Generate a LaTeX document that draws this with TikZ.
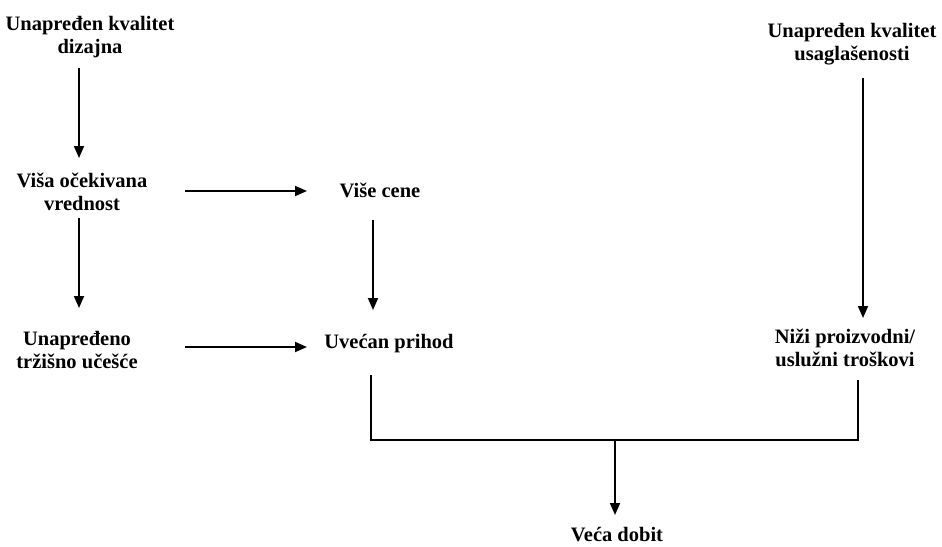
\documentclass[tikz,border=0pt]{standalone}
\usepackage{fontspec}
\setmainfont{Liberation Serif}
\usetikzlibrary{arrows.meta}
\begin{document}
\begin{tikzpicture}[x=1pt,y=-1pt,
  lbl/.style={align=center,inner sep=0pt,font=\fontsize{20.5}{23}\selectfont\bfseries},
  conn/.style={line width=1.8pt},
  arr/.style={conn,-{Triangle[length=12pt,width=10pt]}}]
\useasboundingbox[fill=white] (0,0) rectangle (942,546);
\node[lbl] (a) at (90,37) {Unapređen kvalitet\\dizajna};
\node[lbl] (b) at (82,192) {Viša očekivana\\vrednost};
\node[lbl] (c) at (380,190) {Više cene};
\node[lbl] (d) at (77,350) {Unapređeno\\tržišno učešće};
\node[lbl] (e) at (389,344) {Uvećan prihod};
\node[lbl] (f) at (852,44) {Unapređen kvalitet\\usaglašenosti};
\node[lbl] (g) at (845,348) {Niži proizvodni/\\uslužni troškovi};
\node[lbl] (h) at (617,535) {Veća dobit};
\coordinate (j) at (615,440);
\draw[arr] ([shift={(-11,31)}]a.center) -- ([shift={(-3,-34)}]b.center);
\draw[arr] ([shift={(103,-1)}]b.center) -- ([shift={(-73,1)}]c.center);
\draw[arr] ([shift={(-3,26)}]b.center) -- ([shift={(2,-42)}]d.center);
\draw[arr] ([shift={(-7,30)}]c.center) -- ([shift={(-16,-34)}]e.center);
\draw[arr] ([shift={(108,-3)}]d.center) -- ([shift={(-82,3)}]e.center);
\draw[arr] ([shift={(11,34)}]f.center) -- ([shift={(18,-30)}]g.center);
\draw[conn,line join=miter] ([shift={(-18,31)}]e.center) |- (j) -| ([shift={(13,32)}]g.center);
\draw[arr] (j) -- ([shift={(-2,-20)}]h.center);
\end{tikzpicture}
\end{document}
